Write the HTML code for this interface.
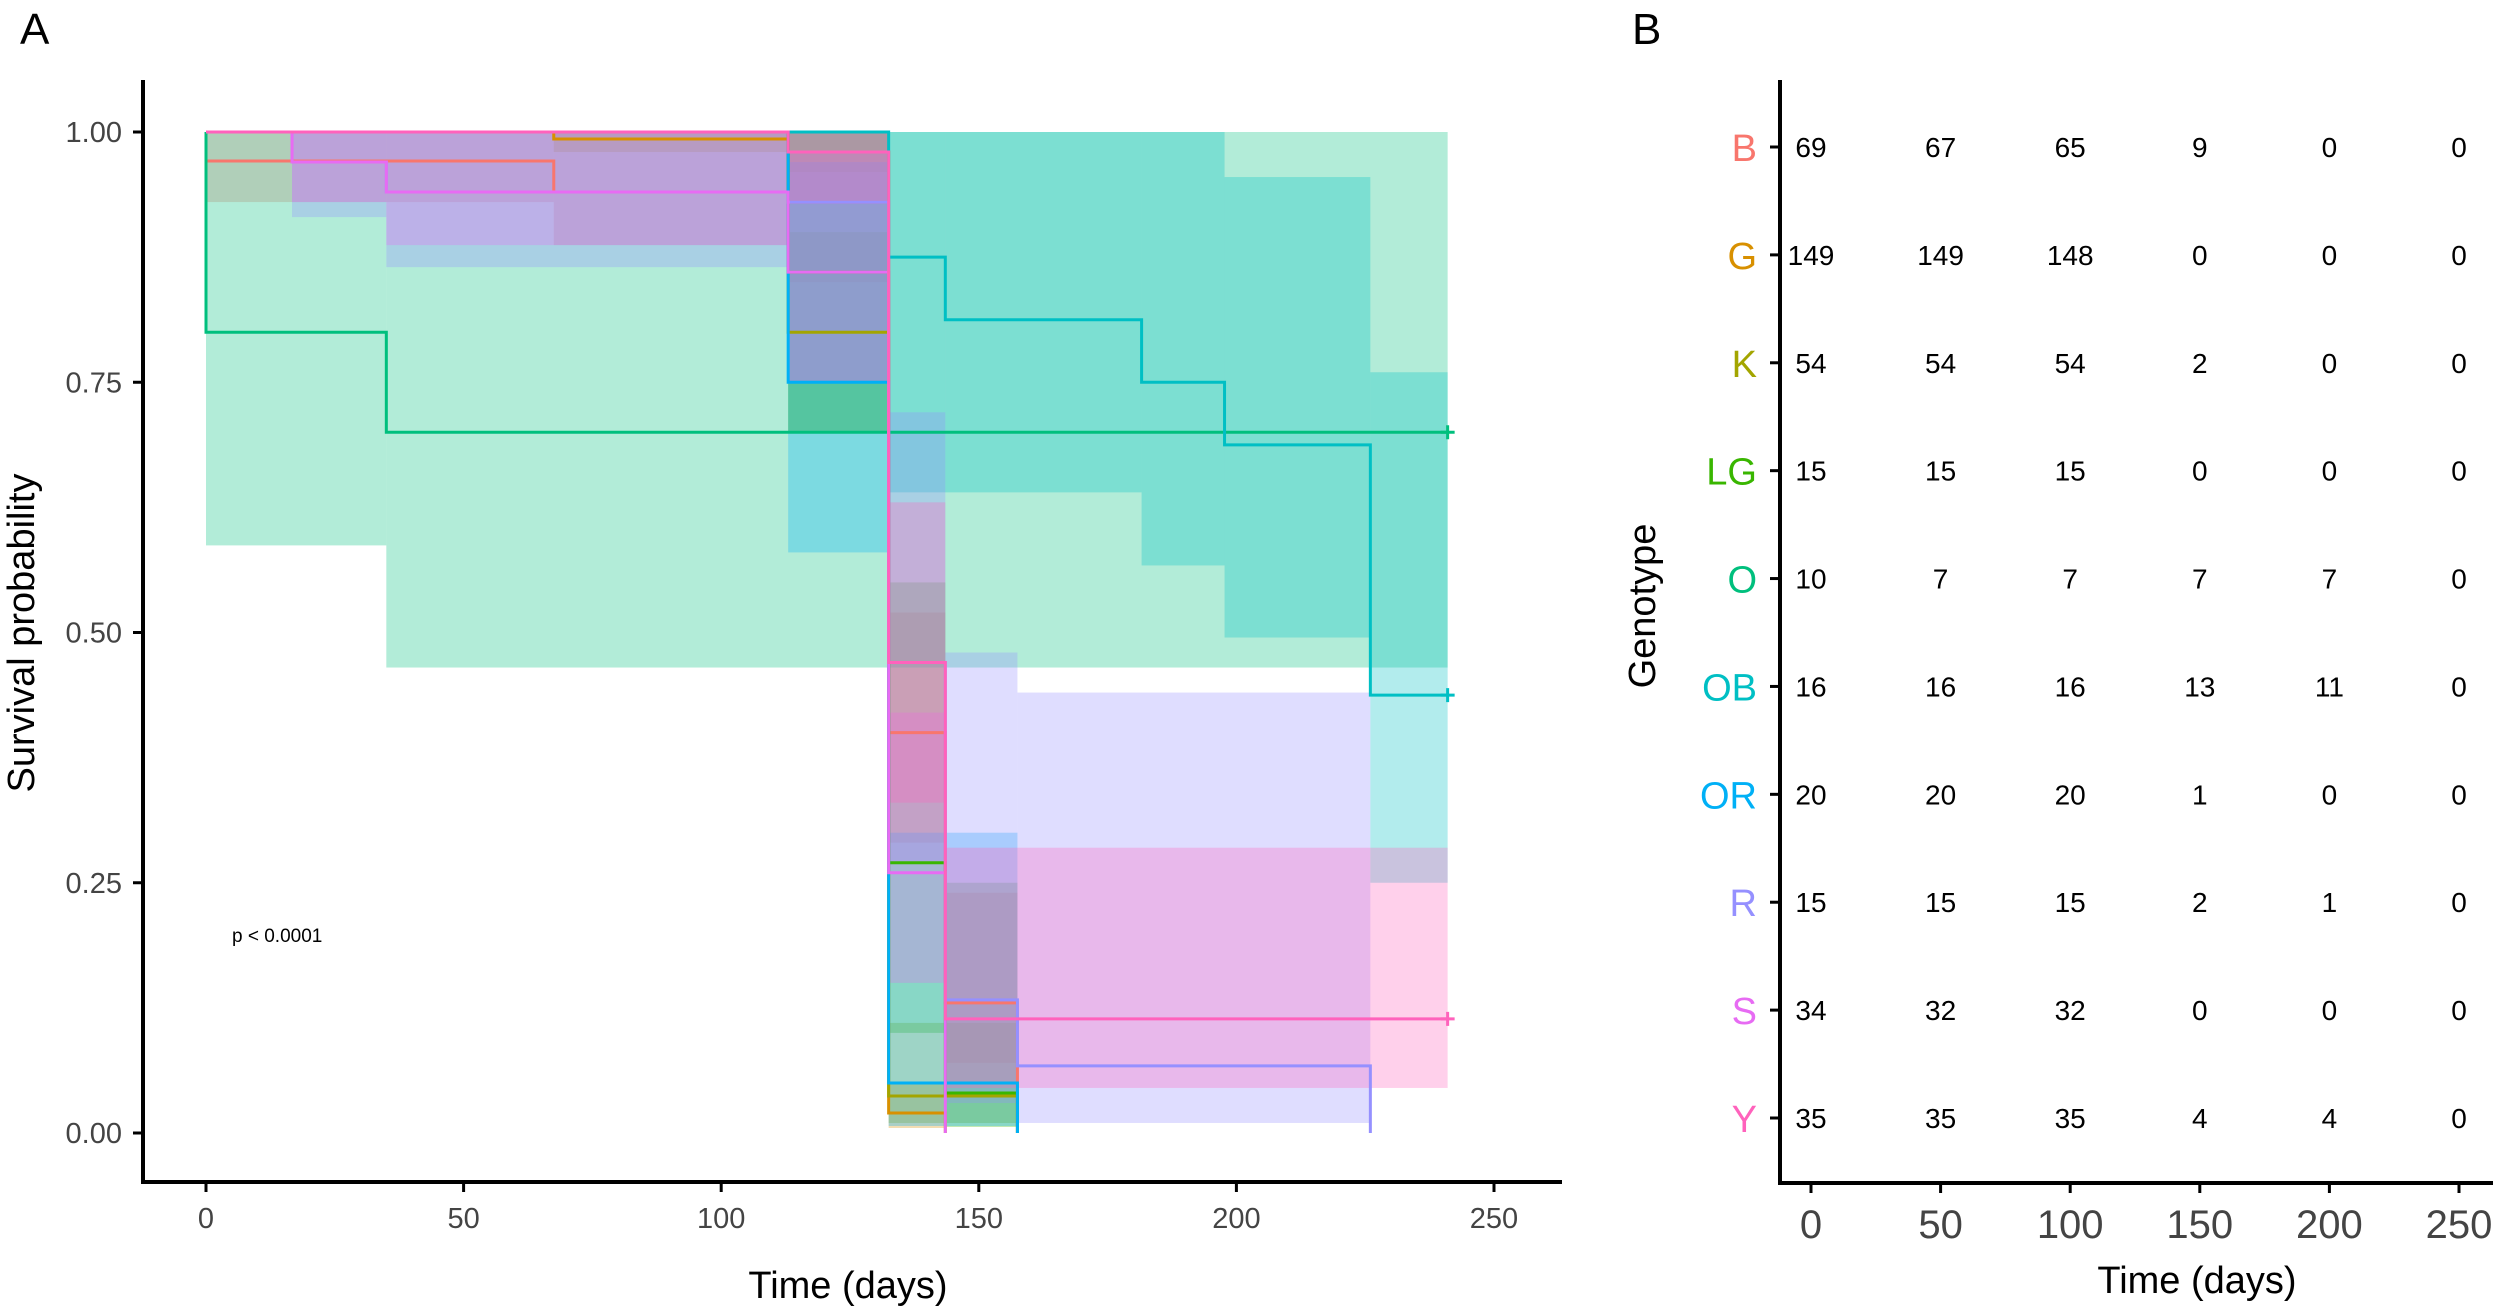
<!DOCTYPE html>
<html><head><meta charset="utf-8">
<style>
html,body{margin:0;padding:0;background:#fff;}
svg{display:block;font-family:"Liberation Sans",sans-serif;}
</style></head>
<body>
<svg id="chart" width="2500" height="1313" viewBox="0 0 2500 1313" xmlns="http://www.w3.org/2000/svg">
<text x="20" y="44" font-size="44">A</text>
<text x="1632" y="44" font-size="44">B</text>
<g id="plotA"></g>
<g id="plotB"></g>
</svg>
<script>
const groups = ["B","G","K","LG","O","OB","OR","R","S","Y"];
const colors = ["#F8766D","#D89000","#A3A500","#39B600","#00BF7D","#00BFC4","#00B0F6","#9590FF","#E76BF3","#FF62BC"];
const timesB=[0,67.5,113,132.5,143.5], survB=[0.971,0.94,0.93,0.40,0.13], loB=[0.93,0.887,0.85,0.29,0.07], hiB=[1,1,1,0.52,0.24];
const timesG=[0,67.5,113,132.5], survG=[1,0.993,0.98,0.02], loG=[1,0.98,0.96,0.005], hiG=[1,1,1,0.05];
const timesK=[0,113,132.5], survK=[1,0.8,0.037], loK=[1,0.7,0.01], hiK=[1,0.9,0.11];
const timesLG=[0,113,132.5,143.5], survLG=[1,0.86,0.27,0.04], loLG=[1,0.7,0.1,0.006], hiLG=[1,1,0.55,0.25];
const timesO=[0,35], survO=[0.8,0.7], loO=[0.587,0.465], hiO=[1,1];
const timesOB=[0,132.5,143.5,181.6,197.7,226], survOB=[1,0.875,0.8125,0.75,0.6875,0.4375], loOB=[1,0.64,0.64,0.567,0.495,0.25], hiOB=[1,1,1,1,0.955,0.76];
const timesOR=[0,113,132.5], survOR=[1,0.75,0.05], loOR=[1,0.58,0.007], hiOR=[1,0.97,0.3];
const timesR=[0,16.7,35,113,132.5,143.5,157.5], survR=[1,0.97,0.94,0.93,0.47,0.133,0.067], loR=[1,0.915,0.865,0.75,0.27,0.03,0.01], hiR=[1,1,1,1,0.72,0.48,0.44];
const timesS=[0,16.7,35,113,132.5], survS=[1,0.97,0.94,0.86,0.26], loS=[1,0.93,0.887,0.75,0.15], hiS=[1,1,1,0.98,0.42];
const timesY=[0,113,132.5,143.5], survY=[1,0.98,0.47,0.114], loY=[1,0.93,0.33,0.045], hiY=[1,1,0.63,0.285];
const endTimes=[157.5,143.5,157.5,157.5,241,241,157.5,226,143.5,241];
const censored=[false,false,false,false,true,true,false,false,false,true];
const xTicks=[0,50,100,150,200,250];
const yTicks=[0,0.25,0.5,0.75,1];
const yTickLabels=["0.00","0.25","0.50","0.75","1.00"];
const riskTimes=[0,50,100,150,200,250];
const riskB=[69,67,65,9,0,0], riskG=[149,149,148,0,0,0], riskK=[54,54,54,2,0,0], riskLG=[15,15,15,0,0,0], riskO=[10,7,7,7,7,0];
const riskOB=[16,16,16,13,11,0], riskOR=[20,20,20,1,0,0], riskR=[15,15,15,2,1,0], riskS=[34,32,32,0,0,0], riskY=[35,35,35,4,4,0];

const NS="http://www.w3.org/2000/svg";
function mk(tag,attrs,parent){const e=document.createElementNS(NS,tag);for(const k in attrs)e.setAttribute(k,attrs[k]);parent.appendChild(e);return e;}
const sx=t=>206+t*(1494-206)/250;
const sy=s=>1133-s*(1133-132);
const A=document.getElementById('plotA');
const T=[timesB,timesG,timesK,timesLG,timesO,timesOB,timesOR,timesR,timesS,timesY];
const S=[survB,survG,survK,survLG,survO,survOB,survOR,survR,survS,survY];
const L=[loB,loG,loK,loLG,loO,loOB,loOR,loR,loS,loY];
const H=[hiB,hiG,hiK,hiLG,hiO,hiOB,hiOR,hiR,hiS,hiY];
// bands
for(let g=0;g<groups.length;g++){
  const bg=mk('g',{},A);
  
  
  for(let i=0;i<T[g].length;i++){
    const t0=T[g][i], t1=(i+1<T[g].length)?T[g][i+1]:endTimes[g];
    if(t1<=t0) continue;
    const r=mk('rect',{x:sx(t0),y:sy(H[g][i]),width:sx(t1)-sx(t0),height:Math.max(0,sy(L[g][i])-sy(H[g][i])),fill:colors[g],'fill-opacity':0.3},bg);
    
    
  }
}
// lines
for(let g=0;g<groups.length;g++){
  let d='M'+sx(0)+','+sy(1);
  for(let i=0;i<T[g].length;i++){
    d+=' H'+sx(T[g][i])+' V'+sy(S[g][i]);
  }
  d+=' H'+sx(endTimes[g]);
  if(!censored[g]) d+=' V'+sy(0);
  const p=mk('path',{d:d,fill:'none',stroke:colors[g],'stroke-width':3},A);
  
  
  if(censored[g]){
    const last=S[g][S[g].length-1], cx=sx(endTimes[g]), cy=sy(last);
    const c=mk('path',{d:`M${cx-7},${cy} H${cx+7} M${cx},${cy-7} V${cy+7}`,stroke:colors[g],'stroke-width':3},A);
    
    
  }
}
// axes A
const ax=mk('path',{d:'M143,80 V1182 H1562',fill:'none',stroke:'#000','stroke-width':4},A);


xTicks.forEach(t=>{
  mk('line',{x1:sx(t),x2:sx(t),y1:1182,y2:1192,stroke:'#000','stroke-width':3},A);
  const tx=mk('text',{x:sx(t),y:1228,'font-size':29,fill:'#444','text-anchor':'middle'},A);
  tx.textContent=t;
  
  
});
yTicks.forEach((v,i)=>{
  mk('line',{x1:133,x2:143,y1:sy(v),y2:sy(v),stroke:'#000','stroke-width':3},A);
  const tx=mk('text',{x:122,y:sy(v)+10,'font-size':29,fill:'#444','text-anchor':'end'},A);
  tx.textContent=yTickLabels[i];
  
  
});
let t1=mk('text',{x:848,y:1298,'font-size':38,'text-anchor':'middle'},A);t1.textContent='Time (days)';


let t2=mk('text',{x:0,y:0,'font-size':38,'text-anchor':'middle',transform:'translate(34,633) rotate(-90)'},A);t2.textContent='Survival probability';


let t3=mk('text',{x:232,y:942,'font-size':19},A);t3.textContent='p < 0.0001';



// Panel B
const B=document.getElementById('plotB');
const bx=t=>1811+t*(2459-1811)/250;
const by=i=>147+i*(1118-147)/9;
const R=[riskB,riskG,riskK,riskLG,riskO,riskOB,riskOR,riskR,riskS,riskY];
const bax=mk('path',{d:'M1780,80 V1183 H2493',fill:'none',stroke:'#000','stroke-width':4},B);


groups.forEach((g,i)=>{
  mk('line',{x1:1770,x2:1780,y1:by(i),y2:by(i),stroke:'#000','stroke-width':3},B);
  const l=mk('text',{x:1757,y:by(i)+14,'font-size':38,fill:colors[i],'text-anchor':'end'},B);
  l.textContent=g;
  
  
  R[i].forEach((v,j)=>{
    const n=mk('text',{x:bx(riskTimes[j]),y:by(i)+10,'font-size':28,'text-anchor':'middle'},B);
    n.textContent=v;
    
    
  });
});
riskTimes.forEach(t=>{
  mk('line',{x1:bx(t),x2:bx(t),y1:1183,y2:1193,stroke:'#000','stroke-width':3},B);
  const tx=mk('text',{x:bx(t),y:1238,'font-size':40,fill:'#444','text-anchor':'middle'},B);
  tx.textContent=t;
  
  
});
let b1=mk('text',{x:2197,y:1293,'font-size':38,'text-anchor':'middle'},B);b1.textContent='Time (days)';


let b2=mk('text',{x:0,y:0,'font-size':38,'text-anchor':'middle',transform:'translate(1655,606) rotate(-90)'},B);b2.textContent='Genotype';


</script>
</body></html>
